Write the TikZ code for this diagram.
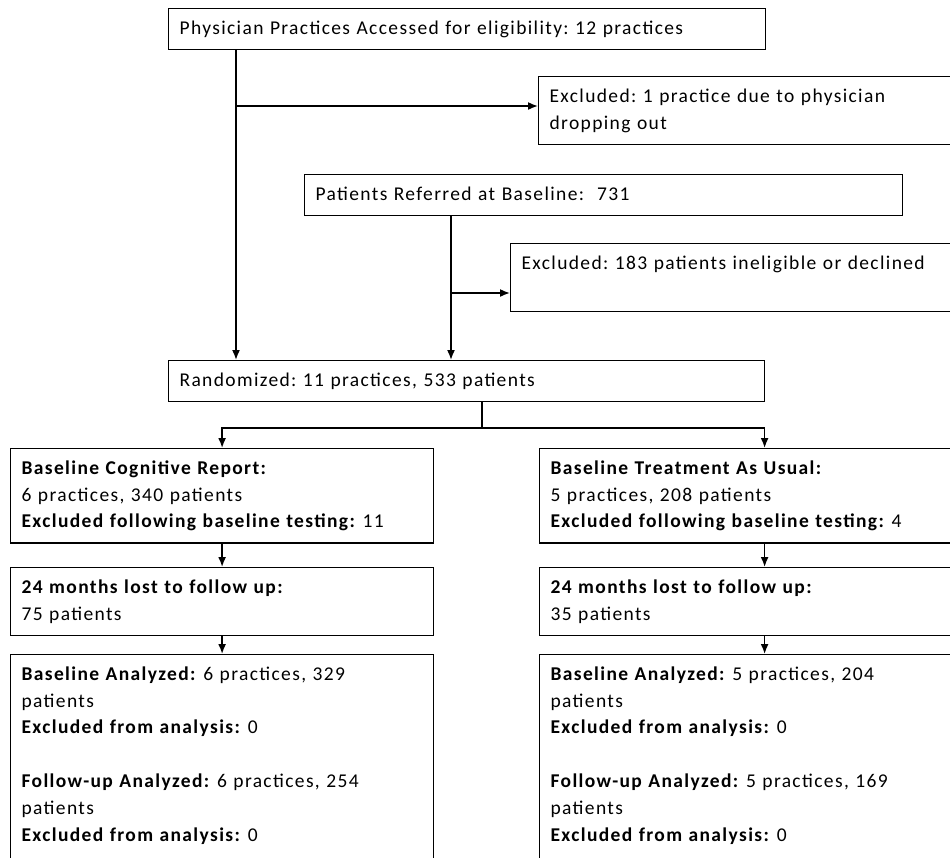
\documentclass[tikz,border=0pt]{standalone}
\usepackage{fontspec}
\setmainfont{Carlito}[LetterSpace=7]
\frenchspacing
\usetikzlibrary{arrows.meta}

\begin{document}
\begin{tikzpicture}[x=1pt,y=-1pt,>={Latex[length=10pt,width=8pt]},
    box/.style={draw, line width=1.2pt, anchor=north west, align=left,
        inner xsep=11pt, inner ysep=7pt,
        font=\fontsize{19.5}{26.8}\selectfont,
        execute at begin node=\strut, execute at end node=\strut},
    flow/.style={->, line width=1.6pt}]
        % fix the page and cut the boxes running off the edges
        \path[use as bounding box, clip] (0,0) rectangle (950,857);

        % draw the screening boxes
        \node[box, text width=575pt] (phys) at (168,8)
            {Physician Practices Accessed for eligibility: 12 practices};
        \node[box, text width=430pt] (exclPhys) at (538,76)
            {Excluded: 1 practice due to physician\\dropping out};
        \node[box, text width=576pt] (refer) at (304,174)
            {Patients Referred at Baseline:~ 731};
        \node[box, text width=460pt] (exclRef) at (510,243)
            {Excluded: 183 patients ineligible or declined\\\mbox{}};
        \node[box, text width=574pt] (rand) at (168,360)
            {Randomized: 11 practices, 533 patients};

        % draw the two arms
        \node[box, text width=401pt] (cog) at (10,448)
            {\textbf{Baseline Cognitive Report:}\\
             6 practices, 340 patients\\
             \textbf{Excluded following baseline testing:} 11};
        \node[box, text width=428pt] (tau) at (539,448)
            {\textbf{Baseline Treatment As Usual:}\\
             5 practices, 208 patients\\
             \textbf{Excluded following baseline testing:} 4};
        \node[box, text width=401pt] (lostCog) at (10,567)
            {\textbf{24 months lost to follow up:}\\75 patients};
        \node[box, text width=428pt] (lostTau) at (539,567)
            {\textbf{24 months lost to follow up:}\\35 patients};
        \node[box, text width=401pt] (anaCog) at (10,654)
            {\textbf{Baseline Analyzed:} 6 practices, 329\\patients\\
             \textbf{Excluded from analysis:} 0\\\mbox{}\\
             \textbf{Follow-up Analyzed:} 6 practices, 254\\patients\\
             \textbf{Excluded from analysis:} 0\\\mbox{}};
        \node[box, text width=428pt] (anaTau) at (539,654)
            {\textbf{Baseline Analyzed:} 5 practices, 204\\patients\\
             \textbf{Excluded from analysis:} 0\\\mbox{}\\
             \textbf{Follow-up Analyzed:} 5 practices, 169\\patients\\
             \textbf{Excluded from analysis:} 0\\\mbox{}};

        % practices line and its exclusion
        \coordinate (colPhys) at (236,106);
        \draw[flow] (colPhys |- phys.south) -- (colPhys |- rand.north);
        \draw[flow] (colPhys) -- (colPhys -| exclPhys.west);

        % patients line and its exclusion
        \coordinate (colRef) at (451,293);
        \draw[flow] (colRef |- refer.south) -- (colRef |- rand.north);
        \draw[flow] (colRef) -- (colRef -| exclRef.west);

        % split after randomization
        \coordinate (split) at (482,428);
        \draw[line width=1.6pt] (split |- rand.south) -- (split);
        \draw[flow] (split) -| (cog.north);
        \draw[flow] (split) -| (tau.north);

        % follow the arms down
        \draw[flow] (cog) -- (lostCog);
        \draw[flow] (tau) -- (lostTau);
        \draw[flow] (lostCog) -- (anaCog);
        \draw[flow] (lostTau) -- (anaTau);
\end{tikzpicture}
\end{document}
